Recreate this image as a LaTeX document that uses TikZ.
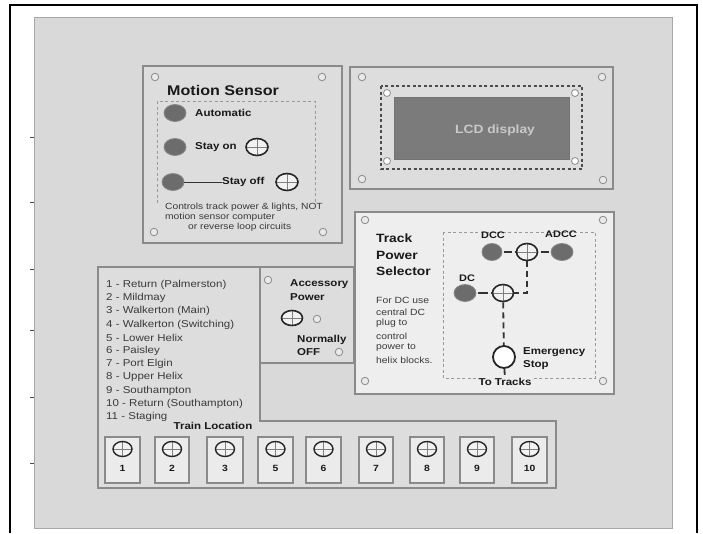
\documentclass[tikz,border=0pt]{standalone}
\usepackage{fontspec}
\setmainfont[FakeStretch=1.15]{Liberation Sans}
\usetikzlibrary{shapes.geometric}
\definecolor{panelc}{HTML}{D9D9D9}
\definecolor{paneledge}{HTML}{A8A8A8}
\definecolor{boxc}{HTML}{DDDDDD}
\definecolor{boxedge}{HTML}{8A8A8A}
\definecolor{tpsc}{HTML}{EEEEEE}
\definecolor{lampc}{HTML}{6C6C6C}
\definecolor{swfill}{HTML}{F2F2F2}
\definecolor{holefill}{HTML}{EAEAEA}
\definecolor{holeedge}{HTML}{8C8C8C}
\definecolor{lcdc}{HTML}{7B7B7B}
\definecolor{lcdtext}{HTML}{C9C9C9}
\definecolor{txtc}{HTML}{3A3A3A}
\begin{document}
\begin{tikzpicture}[x=1pt,y=-1pt,
  box/.style={draw=boxedge,line width=1.3pt,fill=boxc},
  hole/.style={circle,draw=holeedge,fill=holefill,line width=0.8pt,minimum size=7.5pt,inner sep=0pt},
  whitehole/.style={circle,draw=holeedge,fill=white,line width=0.8pt,minimum size=7pt,inner sep=0pt},
  lamp/.style={ellipse,fill=lampc,draw=lampc!75!panelc,line width=0.8pt,minimum width=22pt,minimum height=17pt,inner sep=0pt},
  sw/.style={ellipse,draw=black!85,line width=1.6pt,fill=swfill,minimum width=21pt,minimum height=17pt,inner sep=0pt,
    path picture={\draw[gray,line width=0.5pt] (path picture bounding box.north) -- (path picture bounding box.south)
      (path picture bounding box.west) -- (path picture bounding box.east);}},
  smallsw/.style={sw,line width=1.4pt,minimum width=19pt,minimum height=15pt},
  estop/.style={circle,draw=black!85,line width=1.8pt,fill=white,minimum size=22pt,inner sep=0pt},
  wire/.style={draw=black!80,line width=1.8pt,dash pattern=on 6pt off 4pt},
  dashbox/.style={draw=gray!80,line width=0.9pt,dash pattern=on 3pt off 2.5pt},
  lbl/.style={inner sep=0pt,font=\bfseries\fontsize{10}{12}\selectfont,text=black!90},
  small/.style={inner sep=0pt,font=\fontsize{8.9}{11}\selectfont,text=txtc},
  tbox/.style={draw=boxedge,line width=1.2pt,fill=boxc!60!white}
]
\useasboundingbox (0,0) rectangle (703,533);
\fill[white] (0,0) rectangle (703,533);
% outer frame
\draw[black,line width=1.5pt] (10,533) -- (10,5) -- (697,5) -- (697,533);
% panel
\draw[fill=panelc,draw=paneledge,line width=1pt] (34,17) rectangle (672,528);
\foreach \yy in {137,202,269,330,397,463} \draw[gray!60!black,line width=1pt] (30,\yy) -- (34,\yy);

% ---------- Train location list (L-shape) ----------
\draw[box] (98,267) -- (260,267) -- (260,421) -- (556,421) -- (556,488) -- (98,488) -- cycle;
\foreach \t [count=\i] in {1 - Return (Palmerston),2 - Mildmay,3 - Walkerton (Main),4 - Walkerton (Switching),5 - Lower Helix,6 - Paisley,7 - Port Elgin,8 - Upper Helix,9 - Southampton,10 - Return (Southampton),11 - Staging}
  \node[inner sep=0pt,anchor=west,font=\fontsize{10}{12}\selectfont,text=txtc] (li\i) at (106,{285+13.2*(\i-1)}) {\t};
\node[lbl] (tloc) at (213,426) {Train Location};
\foreach \xa/\xb/\n [count=\i] in {105/140/1,155/189/2,207/243/3,258/293/5,306/341/6,359/393/7,410/444/8,460/494/9,512/547/10}{
  \draw[tbox] (\xa,437) rectangle (\xb,483);
  \node[smallsw] (tl\i) at ({(\xa+\xb)/2},449) {};
  \node[lbl,font=\bfseries\fontsize{9}{11}\selectfont] (tn\i) at ({(\xa+\xb)/2},468) {\n};
}

% ---------- Accessory power ----------
\draw[box] (260,267) rectangle (354,363);
\node[hole] (ah1) at (268,280) {};
\node[lbl,anchor=west] (acc1) at (290,284) {Accessory};
\node[lbl,anchor=west] (acc2) at (290,297) {Power};
\node[sw,minimum height=15pt] (accsw) at (292,318) {};
\node[hole] (ah2) at (317,319) {};
\node[lbl,anchor=west] (norm1) at (297,340) {Normally};
\node[lbl,anchor=west] (norm2) at (297,352) {OFF};
\node[hole] (ah3) at (339,352) {};

% ---------- Motion sensor ----------
\draw[box] (143,66) rectangle (342,243);
\node[hole] (mh1) at (155,77) {};
\node[hole] (mh2) at (322,77) {};
\node[hole] (mh3) at (154,232) {};
\node[hole] (mh4) at (323,232) {};
\node[inner sep=0pt,anchor=west,font=\bfseries\fontsize{14}{16}\selectfont,text=black!90] (mstitle) at (167,90) {Motion Sensor};
\draw[dashbox] (157,203) -- (157,101) -- (315,101) -- (315,203);
\node[lamp] (ml1) at (175,113) {};
\node[lamp] (ml2) at (175,147) {};
\node[lamp] (ml3) at (173,182) {};
\node[lbl,anchor=west] (auto) at (195,113) {Automatic};
\node[lbl,anchor=west] (stayon) at (195,147) {Stay on};
\node[lbl,anchor=west] (stayoff) at (222,182) {Stay off};
\node[sw,minimum width=22pt] (onsw) at (257,147) {};
\node[sw,minimum width=22pt] (offsw) at (287,182) {};
\draw[black!80,line width=1pt] (ml3) -- (stayoff);
\node[small,anchor=west] (mt1) at (165,207) {Controls track power \& lights, NOT};
\node[small,anchor=west] (mt2) at (165,217) {motion sensor computer};
\node[small,anchor=west] (mt3) at (188,227) {or reverse loop circuits};

% ---------- LCD ----------
\draw[box] (350,67) rectangle (613,189);
\node[hole] (lh1) at (362,77) {};
\node[hole] (lh2) at (602,77) {};
\node[hole] (lh3) at (362,179) {};
\node[hole] (lh4) at (603,180) {};
\draw[draw=black!70,line width=1.2pt,dash pattern=on 3pt off 2.5pt] (381,86) rectangle (582,169);
\draw[fill=lcdc,draw=black!55,line width=0.8pt] (394,97) rectangle (569,159);
\node[whitehole] (lw1) at (387,93) {};
\node[whitehole] (lw2) at (575,93) {};
\node[whitehole] (lw3) at (387,161) {};
\node[whitehole] (lw4) at (575,161) {};
\node[inner sep=0pt,font=\bfseries\fontsize{12}{14}\selectfont,text=lcdtext] (lcdt) at (495,130) {LCD display};

% ---------- Track power selector ----------
\draw[box,fill=tpsc] (355,212) rectangle (614,394);
\node[hole] (th1) at (365,220) {};
\node[hole] (th2) at (603,220) {};
\node[hole] (th3) at (365,381) {};
\node[hole] (th4) at (603,381) {};
\foreach \t/\yy [count=\i] in {Track/238,Power/255,Selector/271}
  \node[lbl,anchor=west,font=\bfseries\fontsize{12}{14}\selectfont] (tt\i) at (376,\yy) {\t};
\foreach \t/\yy [count=\i] in {For DC use/300,central DC/312,plug to/323,control/336,power to/348,helix blocks./360}
  \node[small,anchor=west,font=\fontsize{9}{11}\selectfont] (td\i) at (376,\yy) {\t};
\draw[dashbox] (443,232) rectangle (595,378);
\node[lbl,font=\bfseries\fontsize{9.5}{11}\selectfont] (dccl) at (493,235) {DCC};
\node[lbl,font=\bfseries\fontsize{9.5}{11}\selectfont] (adccl) at (561,234) {ADCC};
\node[lbl,font=\bfseries\fontsize{9.5}{11}\selectfont] (dcl) at (467,278) {DC};
\node[lamp,minimum width=20pt] (dcc) at (492,252) {};
\node[lamp] (adcc) at (562,252) {};
\node[lamp] (dc) at (465,293) {};
\node[sw] (s1) at (527,252) {};
\node[sw] (s2) at (503,293) {};
\node[estop] (stop) at (504,357) {};
\node[lbl,anchor=west] (em1) at (523,352) {Emergency};
\node[lbl,anchor=west] (em2) at (523,365) {Stop};
\node[lbl,fill=tpsc,inner sep=1pt] (totr) at (505,382) {To Tracks};
\draw[wire,dash pattern=on 8pt off 3pt,shorten <=2pt] (dcc) -- (s1);
\draw[wire,dash pattern=on 8pt off 3pt,shorten <=3pt] (s1) -- (adcc);
\draw[wire] (s1) |- (s2);
\draw[wire,dash pattern=on 10pt off 3pt,shorten <=2pt] (dc) -- (s2);
\draw[wire] (s2) -- (stop);
\draw[wire] (stop) -- (totr);
\end{tikzpicture}
\end{document}
